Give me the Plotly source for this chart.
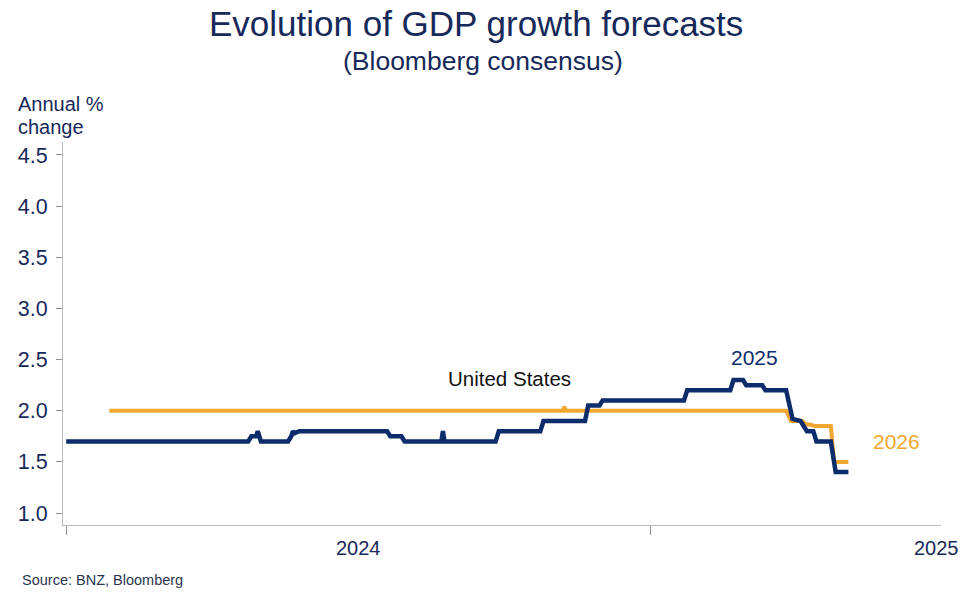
import plotly.graph_objects as go

# ---- data ----
us2025_dates = [
    "2024-01-01", "2024-04-24", "2024-04-26", "2024-04-29", "2024-04-30", "2024-05-02",
    "2024-05-19", "2024-05-21", "2024-05-22", "2024-05-23", "2024-05-26", "2024-07-20",
    "2024-07-22", "2024-07-29", "2024-07-31", "2024-08-23", "2024-08-24", "2024-08-25",
    "2024-09-26", "2024-09-28", "2024-10-24", "2024-10-26", "2024-11-21", "2024-11-23",
    "2024-11-30", "2024-12-02", "2025-01-22", "2025-01-24", "2025-02-20", "2025-02-22",
    "2025-02-28", "2025-03-02", "2025-03-12", "2025-03-14", "2025-03-27", "2025-03-31",
    "2025-04-05", "2025-04-07", "2025-04-09", "2025-04-13", "2025-04-15", "2025-04-24",
    "2025-04-27", "2025-05-05",
]
us2025_vals = [
    1.70, 1.70, 1.75, 1.75, 1.80, 1.70,
    1.70, 1.75, 1.80, 1.78, 1.80, 1.80,
    1.75, 1.75, 1.70, 1.70, 1.80, 1.70,
    1.70, 1.80, 1.80, 1.90, 1.90, 2.05,
    2.05, 2.10, 2.10, 2.20, 2.20, 2.30,
    2.30, 2.25, 2.25, 2.20, 2.20, 1.92,
    1.90, 1.85, 1.80, 1.80, 1.70, 1.70,
    1.40, 1.40,
]

us2026_dates = [
    "2024-01-28", "2024-11-07", "2024-11-08", "2024-11-09", "2025-03-27", "2025-03-30",
    "2025-04-06", "2025-04-08", "2025-04-12", "2025-04-14", "2025-04-24", "2025-04-26",
    "2025-05-05",
]
us2026_vals = [
    2.00, 2.00, 2.04, 2.00, 2.00, 1.90,
    1.90, 1.87, 1.86, 1.85, 1.85, 1.50,
    1.50,
]

year_ticks = ["2024-01-01", "2025-01-01"]
year_labels = ["2024", "2025"]
year_label_pos = ["2024-07-02", "2025-06-29"]

NAVY = "#0d2c6c"
ORANGE = "#f0a830"
TEXT = "#17295a"
FONT = "Liberation Sans, Arial, sans-serif"

fig = go.Figure()
fig.add_trace(go.Scatter(x=us2026_dates, y=us2026_vals, mode="lines",
                         line=dict(color=ORANGE, width=4), name="2026",
                         showlegend=False))
fig.add_trace(go.Scatter(x=us2025_dates, y=us2025_vals, mode="lines",
                         line=dict(color=NAVY, width=4.5), name="2025",
                         showlegend=False))

annotations = [
    dict(text="Evolution of GDP growth forecasts", xref="paper", yref="paper",
         x=0.470, y=1.310, xanchor="center", yanchor="middle", showarrow=False,
         font=dict(size=35, color=TEXT, family=FONT)),
    dict(text="(Bloomberg consensus)", xref="paper", yref="paper",
         x=0.478, y=1.212, xanchor="center", yanchor="middle", showarrow=False,
         font=dict(size=26.5, color=TEXT, family=FONT)),
    dict(text="Annual %", xref="paper", yref="paper",
         x=-0.0535, y=1.099, xanchor="left", yanchor="middle", align="left",
         showarrow=False, font=dict(size=20, color=TEXT, family=FONT)),
    dict(text="change", xref="paper", yref="paper",
         x=-0.0535, y=1.038, xanchor="left", yanchor="middle", align="left",
         showarrow=False, font=dict(size=20, color=TEXT, family=FONT)),
    dict(text="United States", xref="x", yref="y", x="2024-10-05", y=2.313,
         xanchor="center", yanchor="middle", showarrow=False,
         font=dict(size=20.5, color="#111111", family=FONT)),
    dict(text="2025", xref="x", yref="y", x="2025-03-07", y=2.518,
         xanchor="center", yanchor="middle", showarrow=False,
         font=dict(size=21, color=NAVY, family=FONT)),
    dict(text="2026", xref="x", yref="y", x="2025-06-04", y=1.697,
         xanchor="center", yanchor="middle", showarrow=False,
         font=dict(size=21, color=ORANGE, family=FONT)),
    dict(text="Source: BNZ, Bloomberg", xref="paper", yref="paper",
         x=-0.0490, y=-0.1436, xanchor="left", yanchor="middle", showarrow=False,
         font=dict(size=14.5, color="#2a3550", family=FONT)),
]
for lab, pos in zip(year_labels, year_label_pos):
    annotations.append(dict(text=lab, xref="x", yref="paper", x=pos, y=0,
                            xanchor="center", yanchor="top", yshift=-10,
                            showarrow=False,
                            font=dict(size=20, color=TEXT, family=FONT)))

fig.update_layout(
    width=968, height=601,
    margin=dict(l=63, r=27, t=142, b=76),
    paper_bgcolor="white", plot_bgcolor="white",
    font=dict(family=FONT, color=TEXT),
    annotations=annotations,
    xaxis=dict(type="date", range=["2023-12-30", "2025-07-02"],
               showline=True, linecolor="#b8bcc8", linewidth=1.2,
               showgrid=False, zeroline=False,
               ticks="outside", ticklen=9, tickcolor="#8a90a0", tickwidth=1.2,
               tickvals=year_ticks, showticklabels=False),
    yaxis=dict(range=[0.883, 4.627], showline=True, linecolor="#b8bcc8", linewidth=1.2,
               showgrid=False, zeroline=False,
               ticks="outside", ticklen=6, tickcolor="#8a90a0", tickwidth=1.2,
               tickvals=[1.0, 1.5, 2.0, 2.5, 3.0, 3.5, 4.0, 4.5],
               tickformat=".1f", ticklabelstandoff=4,
               tickfont=dict(size=21.5, color=TEXT, family=FONT)),
)

# remove the default 8px page margin so the figure fills the 968x601 window
fig.write_html("out.html",
               config={"displayModeBar": False},
               post_script="document.body.style.margin='0';document.body.style.overflow='hidden';")
